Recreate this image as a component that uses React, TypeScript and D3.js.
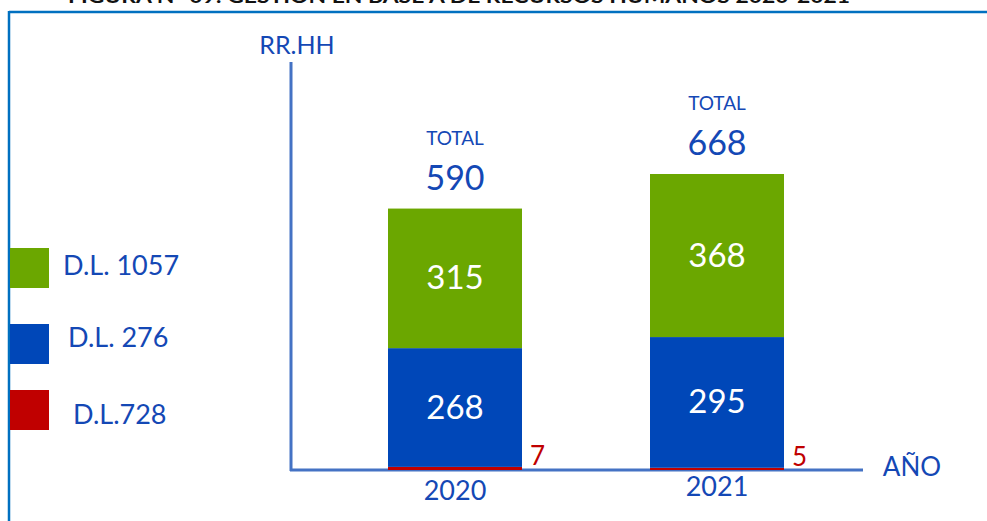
import React from "react";
import * as d3 from "d3";

const years = ["2020", "2021"];
const seriesNames = ["D.L.728", "D.L. 276", "D.L. 1057"];
const dl728 = [7, 5];
const dl276 = [268, 295];
const dl1057 = [315, 368];
const totals = [590, 668];
const seriesColors = ["#C00000", "#0047B8", "#6BA700"];
const legendOrder = [2, 1, 0];

const W = 987;
const H = 521;
const FONT = "Lato, 'Open Sans', sans-serif";
const TEXT_BLUE = "#1448B5";

export default function App() {
  const table = years.map((y, i) => ({
    year: y,
    "D.L.728": dl728[i],
    "D.L. 276": dl276[i],
    "D.L. 1057": dl1057[i],
  }));
  const stack = d3.stack<any>().keys(seriesNames)(table);

  const barW = 134;
  const xPos = d3.scalePoint().domain(years).range([455, 717]);
  const yS = d3.scaleLinear().domain([0, d3.max(totals) as number]).range([470, 174]);

  return (
    <svg width={W} height={H} style={{ position: "absolute", left: 0, top: 0 }} fontFamily={FONT}>
      <rect x={0} y={0} width={W} height={H} fill="#fff" />
      <text x={459} y={3} textAnchor="middle" fontSize={19} fontWeight="bold" fill="#111"
        textLength={782} lengthAdjust="spacingAndGlyphs">
        FIGURA N° 09: GESTIÓN EN BASE A DE RECURSOS HUMANOS 2020-2021
      </text>
      <line x1={9} x2={W} y1={12} y2={12} stroke="#0070C0" strokeWidth={2.5} />
      <line x1={9} x2={9} y1={11} y2={H} stroke="#0070C0" strokeWidth={2.5} />

      {/* axes */}
      <line x1={291} x2={291} y1={62} y2={471} stroke="#4472C4" strokeWidth={3} />
      <line x1={290} x2={863} y1={470} y2={470} stroke="#4472C4" strokeWidth={3} />
      <text x={297} y={54} textAnchor="middle" fontSize={25} fill={TEXT_BLUE}>RR.HH</text>
      <text x={912} y={476} textAnchor="middle" fontSize={26} fill={TEXT_BLUE}>AÑO</text>

      {/* bars */}
      {stack.map((layer, si) =>
        layer.map((d, i) => {
          const y0 = yS(d[0]);
          const y1 = yS(d[1]);
          const h = y0 - y1;
          const xc = xPos(years[i]) as number;
          const val = d[1] - d[0];
          const small = h < 30;
          return (
            <g key={`${si}-${i}`}>
              <rect x={xc - barW / 2} y={y1} width={barW} height={h} fill={seriesColors[si]} />
              {small ? (
                <text x={xc + barW / 2 + 8} y={y1 - 2} fontSize={26} fill={seriesColors[si]}>{val}</text>
              ) : (
                <text x={xc} y={(y0 + y1) / 2 + 11} textAnchor="middle" fontSize={33} fill="#fff">{val}</text>
              )}
            </g>
          );
        })
      )}

      {/* totals */}
      {years.map((y, i) => {
        const xc = xPos(y) as number;
        const top = yS(totals[i]);
        return (
          <g key={y}>
            <text x={xc} y={top - 64} textAnchor="middle" fontSize={19} fill={TEXT_BLUE}>TOTAL</text>
            <text x={xc} y={top - 19} textAnchor="middle" fontSize={34} fill={TEXT_BLUE}>{totals[i]}</text>
            <text x={xc} y={i === 0 ? 500 : 496} textAnchor="middle" fontSize={27} fill={TEXT_BLUE}>{y}</text>
          </g>
        );
      })}

      {/* legend */}
      {legendOrder.map((si, k) => {
        const ys = [248, 324, 390][k];
        const tx = [63, 68, 73][k];
        const ty = [275, 347, 424][k];
        return (
          <g key={si}>
            <rect x={10} y={ys} width={39} height={40} fill={seriesColors[si]} />
            <text x={tx} y={ty} fontSize={27} fill={TEXT_BLUE}>{seriesNames[si]}</text>
          </g>
        );
      })}
    </svg>
  );
}
